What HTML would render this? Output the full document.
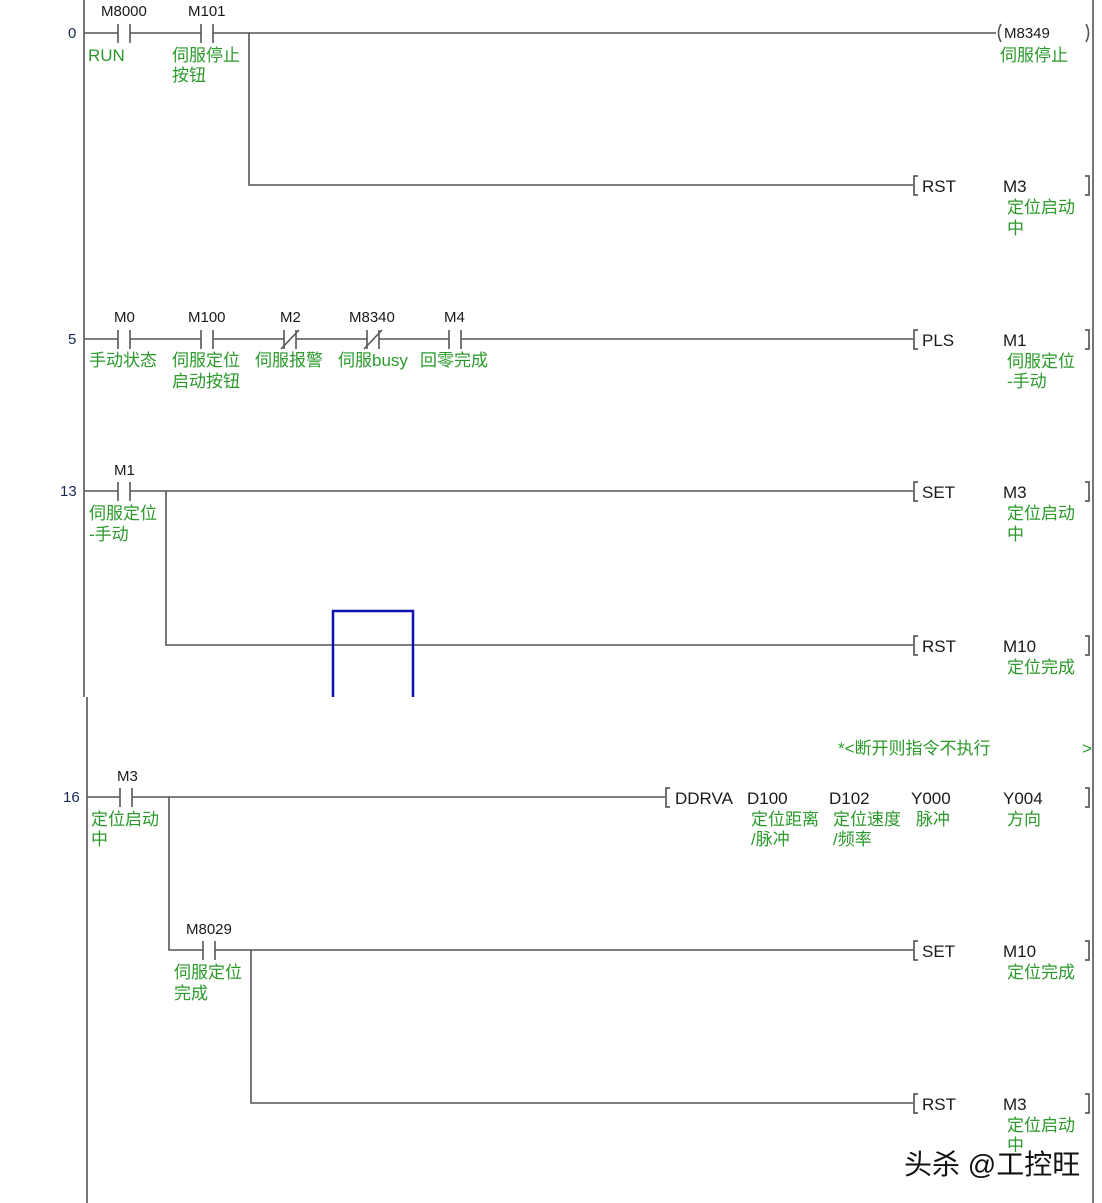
<!DOCTYPE html>
<html><head><meta charset="utf-8"><style>
html,body{margin:0;padding:0;background:#fff;}
svg{display:block;}
.b{font-family:"Liberation Sans","Noto Sans CJK SC",sans-serif;font-size:15px;fill:#1a1a1a;}
.i{font-family:"Liberation Sans","Noto Sans CJK SC",sans-serif;font-size:17px;fill:#1a1a1a;}
.n{font-family:"Liberation Sans",sans-serif;font-size:15px;fill:#1a2a55;}
.g{font-family:"Liberation Sans","Noto Sans CJK SC",sans-serif;font-size:17px;fill:#2b9a2b;}
</style></head><body>
<svg width="1102" height="1203" viewBox="0 0 1102 1203" xmlns="http://www.w3.org/2000/svg">
<g stroke="#555" stroke-width="1.6" fill="none">
<line x1="84" y1="0" x2="84" y2="697"/>
<line x1="87" y1="697" x2="87" y2="1203"/>
<line x1="1093" y1="0" x2="1093" y2="1203"/>
<polyline points="84,33 118,33"/><polyline points="130,33 201,33"/><polyline points="213,33 996,33"/>
<line x1="118" y1="24" x2="118" y2="43"/><line x1="130" y1="24" x2="130" y2="43"/>
<line x1="201" y1="24" x2="201" y2="43"/><line x1="213" y1="24" x2="213" y2="43"/>
<polyline points="249,33 249,185 913,185"/>
<polyline points="84,339 118,339"/><polyline points="130,339 201,339"/><polyline points="213,339 284,339"/>
<polyline points="296,339 367,339"/><polyline points="379,339 449,339"/><polyline points="461,339 913,339"/>
<line x1="118" y1="330" x2="118" y2="349"/><line x1="130" y1="330" x2="130" y2="349"/>
<line x1="201" y1="330" x2="201" y2="349"/><line x1="213" y1="330" x2="213" y2="349"/>
<line x1="284" y1="330" x2="284" y2="349"/><line x1="296" y1="330" x2="296" y2="349"/>
<line x1="281" y1="349" x2="299" y2="330"/>
<line x1="367" y1="330" x2="367" y2="349"/><line x1="379" y1="330" x2="379" y2="349"/>
<line x1="364" y1="349" x2="382" y2="330"/>
<line x1="449" y1="330" x2="449" y2="349"/><line x1="461" y1="330" x2="461" y2="349"/>
<polyline points="84,491 118,491"/><polyline points="130,491 913,491"/>
<line x1="118" y1="482" x2="118" y2="501"/><line x1="130" y1="482" x2="130" y2="501"/>
<polyline points="166,491 166,645 913,645"/>
<polyline points="87,797 120,797"/><polyline points="132,797 665,797"/>
<line x1="120" y1="788" x2="120" y2="807"/><line x1="132" y1="788" x2="132" y2="807"/>
<polyline points="169,797 169,950 203,950"/><polyline points="215,950 913,950"/>
<line x1="203" y1="941" x2="203" y2="960"/><line x1="215" y1="941" x2="215" y2="960"/>
<polyline points="251,950 251,1103 913,1103"/>
<path d="M1001,24 Q996,33 1001,42"/><path d="M1086,24 Q1091,33 1086,42"/>
</g>
<g stroke="#444" stroke-width="1.5" fill="none">
<path d="M918,176 L914,176 L914,195 L918,195"/><path d="M1085,176 L1089,176 L1089,195 L1085,195"/>
<path d="M918,330 L914,330 L914,349 L918,349"/><path d="M1085,330 L1089,330 L1089,349 L1085,349"/>
<path d="M918,482 L914,482 L914,501 L918,501"/><path d="M1085,482 L1089,482 L1089,501 L1085,501"/>
<path d="M918,636 L914,636 L914,655 L918,655"/><path d="M1085,636 L1089,636 L1089,655 L1085,655"/>
<path d="M670,788 L666,788 L666,807 L670,807"/><path d="M1085,788 L1089,788 L1089,807 L1085,807"/>
<path d="M918,941 L914,941 L914,960 L918,960"/><path d="M1085,941 L1089,941 L1089,960 L1085,960"/>
<path d="M918,1094 L914,1094 L914,1113 L918,1113"/><path d="M1085,1094 L1089,1094 L1089,1113 L1085,1113"/>
</g>
<polyline points="333,697 333,611 413,611 413,697" fill="none" stroke="#1010b0" stroke-width="2.5"/>

<text class="n" x="68" y="38">0</text>
<text class="n" x="68" y="344">5</text>
<text class="n" x="60" y="496">13</text>
<text class="n" x="63" y="802">16</text>

<text class="b" x="101" y="16">M8000</text>
<text class="b" x="188" y="16">M101</text>
<text class="g" x="88" y="61">RUN</text>
<text class="g" x="172" y="61">伺服停止</text>
<text class="g" x="172" y="81">按钮</text>
<text class="b" x="1004" y="38">M8349</text>
<text class="g" x="1000" y="61">伺服停止</text>
<text class="i" x="922" y="192">RST</text>
<text class="i" x="1003" y="192">M3</text>
<text class="g" x="1007" y="213">定位启动</text>
<text class="g" x="1007" y="234">中</text>

<text class="b" x="114" y="322">M0</text>
<text class="b" x="188" y="322">M100</text>
<text class="b" x="280" y="322">M2</text>
<text class="b" x="349" y="322">M8340</text>
<text class="b" x="444" y="322">M4</text>
<text class="g" x="89" y="366">手动状态</text>
<text class="g" x="172" y="366">伺服定位</text>
<text class="g" x="172" y="387">启动按钮</text>
<text class="g" x="255" y="366">伺服报警</text>
<text class="g" x="338" y="366">伺服busy</text>
<text class="g" x="420" y="366">回零完成</text>
<text class="i" x="922" y="346">PLS</text>
<text class="i" x="1003" y="346">M1</text>
<text class="g" x="1007" y="367">伺服定位</text>
<text class="g" x="1007" y="387">-手动</text>

<text class="b" x="114" y="475">M1</text>
<text class="g" x="89" y="519">伺服定位</text>
<text class="g" x="89" y="540">-手动</text>
<text class="i" x="922" y="498">SET</text>
<text class="i" x="1003" y="498">M3</text>
<text class="g" x="1007" y="519">定位启动</text>
<text class="g" x="1007" y="540">中</text>
<text class="i" x="922" y="652">RST</text>
<text class="i" x="1003" y="652">M10</text>
<text class="g" x="1007" y="673">定位完成</text>

<text class="g" x="838" y="754">*&lt;断开则指令不执行</text>
<text class="g" x="1082" y="754">&gt;</text>
<text class="b" x="117" y="781">M3</text>
<text class="g" x="91" y="825">定位启动</text>
<text class="g" x="91" y="845">中</text>
<text class="i" x="675" y="804">DDRVA</text>
<text class="i" x="747" y="804">D100</text>
<text class="i" x="829" y="804">D102</text>
<text class="i" x="911" y="804">Y000</text>
<text class="i" x="1003" y="804">Y004</text>
<text class="g" x="751" y="825">定位距离</text>
<text class="g" x="751" y="845">/脉冲</text>
<text class="g" x="833" y="825">定位速度</text>
<text class="g" x="833" y="845">/频率</text>
<text class="g" x="916" y="825">脉冲</text>
<text class="g" x="1007" y="825">方向</text>

<text class="b" x="186" y="934">M8029</text>
<text class="g" x="174" y="978">伺服定位</text>
<text class="g" x="174" y="999">完成</text>
<text class="i" x="922" y="957">SET</text>
<text class="i" x="1003" y="957">M10</text>
<text class="g" x="1007" y="978">定位完成</text>
<text class="i" x="922" y="1110">RST</text>
<text class="i" x="1003" y="1110">M3</text>
<text class="g" x="1007" y="1131">定位启动</text>
<text class="g" x="1007" y="1151">中</text>

<text x="904" y="1174" font-family="Liberation Sans,Noto Sans CJK SC,sans-serif" font-size="28" fill="#111" stroke="#fff" stroke-width="3" paint-order="stroke">头杀 @工控旺</text>
</svg>
</body></html>
